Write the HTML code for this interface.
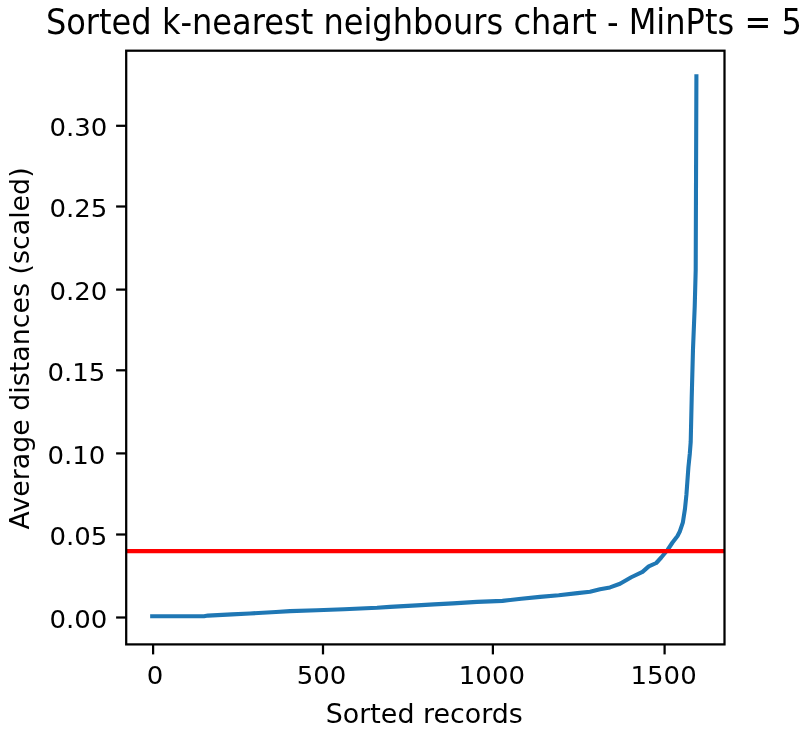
<!DOCTYPE html>
<html lang="en">
<head>
<meta charset="utf-8">
<title>Sorted k-nearest neighbours chart - MinPts = 5</title>
<style>
html,body{margin:0;padding:0;background:#fff;}
body{width:800px;height:729px;overflow:hidden;}
svg{display:block;}
text{font-family:"DejaVu Sans","Liberation Sans",sans-serif;fill:#000;}
.t10{font-size:26.67px;}
.t12{font-size:32px;}
</style>
</head>
<body>
<svg width="800" height="729" viewBox="0 0 800 729">
<rect x="0" y="0" width="800" height="729" fill="#ffffff"/>
<!-- title -->
<text class="t12" transform="translate(45.9,33.5) scale(1.002,1.09)">Sorted k-nearest neighbours chart - MinPts = 5</text>
<!-- data line -->
<g clip-path="url(#ax)">
<polyline id="curve" fill="none" stroke="#1f77b4" stroke-width="4.1" stroke-linejoin="round" stroke-linecap="square"
 points="152.2,616.3 204,616.3 208,615.6 232,614.4 250,613.5 276,612 290,611.1 317,610.3 344,609.2 377,607.8 390,606.9 417,605.4 434,604.4 453,603.4 477,601.9 490,601.4 502.5,600.9 521.25,598.75 540,596.9 558.75,595.25 577.5,593.1 590,591.8 600,589.3 610,587.4 620,583.75 631.25,577.25 642.5,571.9 648.75,566.4 656.25,563 661.25,557.5 667.5,550 672.5,542.5 677.5,536 679.8,531.5 682.9,522.3 685,508.6 686.4,494.9 687.4,481.2 688.4,467.4 689.8,453.7 690.7,442 691.7,398.4 693,349 694.7,307 695.7,270 696.4,76.2"/>
<line x1="126.2" y1="551.2" x2="724.5" y2="551.2" stroke="#ff0000" stroke-width="4.2"/>
</g>
<defs><clipPath id="ax"><rect x="126.2" y="50.7" width="598.3" height="593.7"/></clipPath></defs>
<!-- spines -->
<rect x="126.2" y="50.7" width="598.3" height="593.7" fill="none" stroke="#000" stroke-width="2.25"/>
<!-- x ticks -->
<g stroke="#000" stroke-width="2.25">
<line x1="153.1" y1="644.4" x2="153.1" y2="654.4"/>
<line x1="323" y1="644.4" x2="323" y2="654.4"/>
<line x1="492.9" y1="644.4" x2="492.9" y2="654.4"/>
<line x1="664.6" y1="644.4" x2="664.6" y2="654.4"/>
</g>
<g class="t10" text-anchor="middle">
<text transform="translate(155,684.4) scale(0.975,0.96)">0</text>
<text transform="translate(321.6,684.4) scale(0.975,0.96)">500</text>
<text transform="translate(491.9,684.4) scale(0.975,0.96)">1000</text>
<text transform="translate(663.6,684.4) scale(0.975,0.96)">1500</text>
</g>
<!-- y ticks -->
<g stroke="#000" stroke-width="2.25">
<line x1="126.2" y1="125.8" x2="116.1" y2="125.8"/>
<line x1="126.2" y1="206.5" x2="116.1" y2="206.5"/>
<line x1="126.2" y1="289.6" x2="116.1" y2="289.6"/>
<line x1="126.2" y1="370.3" x2="116.1" y2="370.3"/>
<line x1="126.2" y1="453.4" x2="116.1" y2="453.4"/>
<line x1="126.2" y1="534.5" x2="116.1" y2="534.5"/>
<line x1="126.2" y1="617.5" x2="116.1" y2="617.5"/>
</g>
<g class="t10">
<text transform="translate(49.4,136.4) scale(0.975,0.955)">0.30</text>
<text transform="translate(49.4,217.0) scale(0.975,0.955)">0.25</text>
<text transform="translate(49.4,300.3) scale(0.975,0.955)">0.20</text>
<text transform="translate(47.5,381.1) scale(0.975,0.955)">0.15</text>
<text transform="translate(47.5,463.9) scale(0.975,0.955)">0.10</text>
<text transform="translate(49.4,545.2) scale(0.975,0.955)">0.05</text>
<text transform="translate(49.4,628.0) scale(0.975,0.955)">0.00</text>
</g>
<!-- axis labels -->
<text class="t10" transform="translate(424.3,722.5) scale(1.008,1)" text-anchor="middle">Sorted records</text>
<text class="t10" transform="translate(28.5,348.4) rotate(-90) scale(1.006,1)" text-anchor="middle">Average distances (scaled)</text>
</svg>
</body>
</html>
